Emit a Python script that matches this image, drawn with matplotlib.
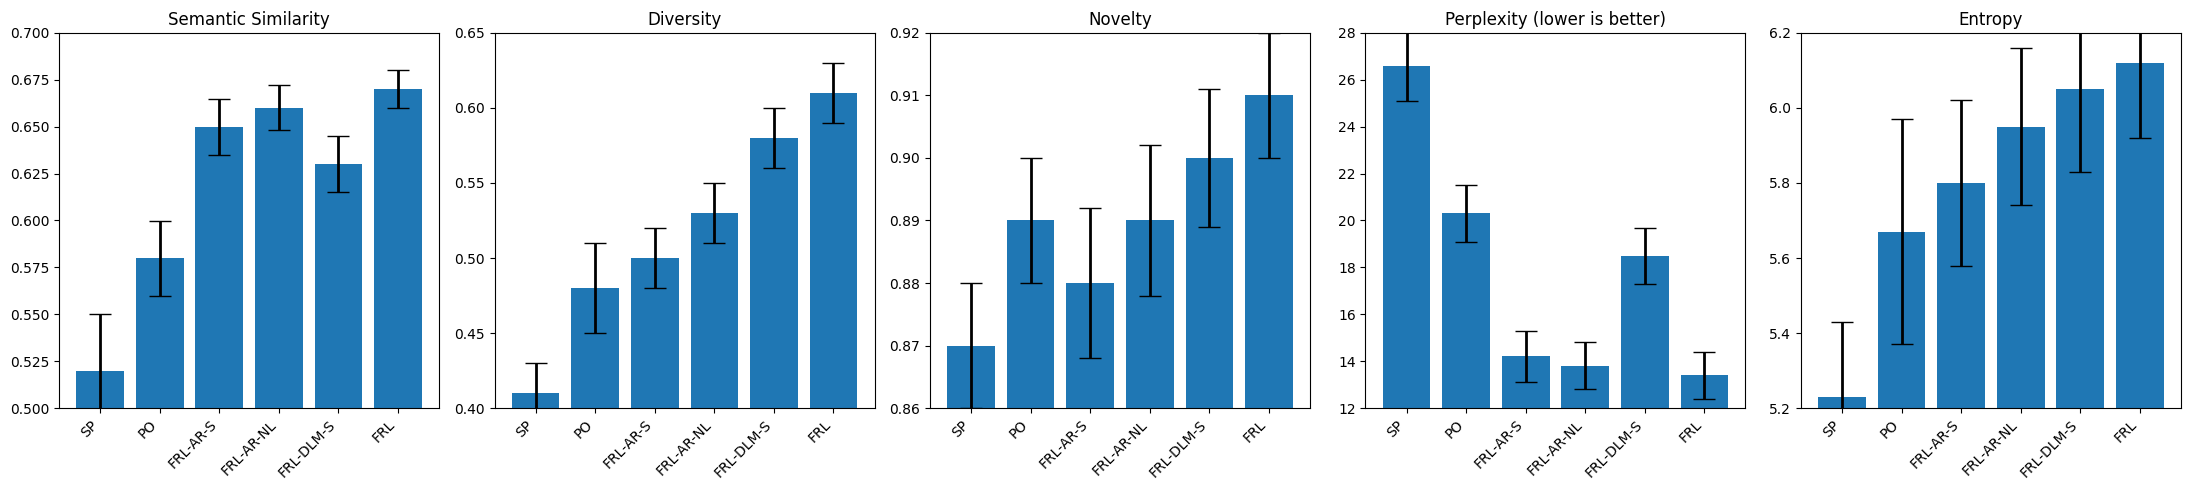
import matplotlib
matplotlib.use("Agg")
import matplotlib.pyplot as plt

methods = ["SP", "PO", "FRL-AR-S", "FRL-AR-NL", "FRL-DLM-S", "FRL"]

# semantic similarity
sem_mean = [0.52, 0.58, 0.65, 0.66, 0.63, 0.67]
sem_err = [0.03, 0.02, 0.015, 0.012, 0.015, 0.01]

# diversity
div_mean = [0.41, 0.48, 0.50, 0.53, 0.58, 0.61]
div_err = [0.02, 0.03, 0.02, 0.02, 0.02, 0.02]

# novelty
nov_mean = [0.87, 0.89, 0.88, 0.89, 0.90, 0.91]
nov_err = [0.01, 0.01, 0.012, 0.012, 0.011, 0.01]

# perplexity
ppl_mean = [26.6, 20.3, 14.2, 13.8, 18.5, 13.4]
ppl_err = [1.5, 1.2, 1.1, 1.0, 1.2, 1.0]

# entropy
ent_mean = [5.23, 5.67, 5.80, 5.95, 6.05, 6.12]
ent_err = [0.2, 0.3, 0.22, 0.21, 0.22, 0.2]

titles = ["Semantic Similarity", "Diversity", "Novelty",
          "Perplexity (lower is better)", "Entropy"]
means = [sem_mean, div_mean, nov_mean, ppl_mean, ent_mean]
errs = [sem_err, div_err, nov_err, ppl_err, ent_err]
ylims = [(0.5, 0.7), (0.4, 0.65), (0.86, 0.92), (12, 28), (5.2, 6.2)]

fig, axes = plt.subplots(1, 5, figsize=(21.89, 4.9), dpi=100)
fig.subplots_adjust(left=0.027, right=0.9963, top=0.9327, bottom=0.1673,
                    wspace=0.146)

for ax, title, m, e, lim in zip(axes, titles, means, errs, ylims):
    ax.bar(methods, m, yerr=e, capsize=8, color="#1f77b4",
           error_kw={"elinewidth": 2, "ecolor": "black"})
    ax.set_title(title)
    ax.set_ylim(*lim)
    ax.set_xticks(range(len(methods)))
    ax.set_xticklabels(methods, rotation=45, ha="right")

plt.savefig("out.png", dpi=100)
